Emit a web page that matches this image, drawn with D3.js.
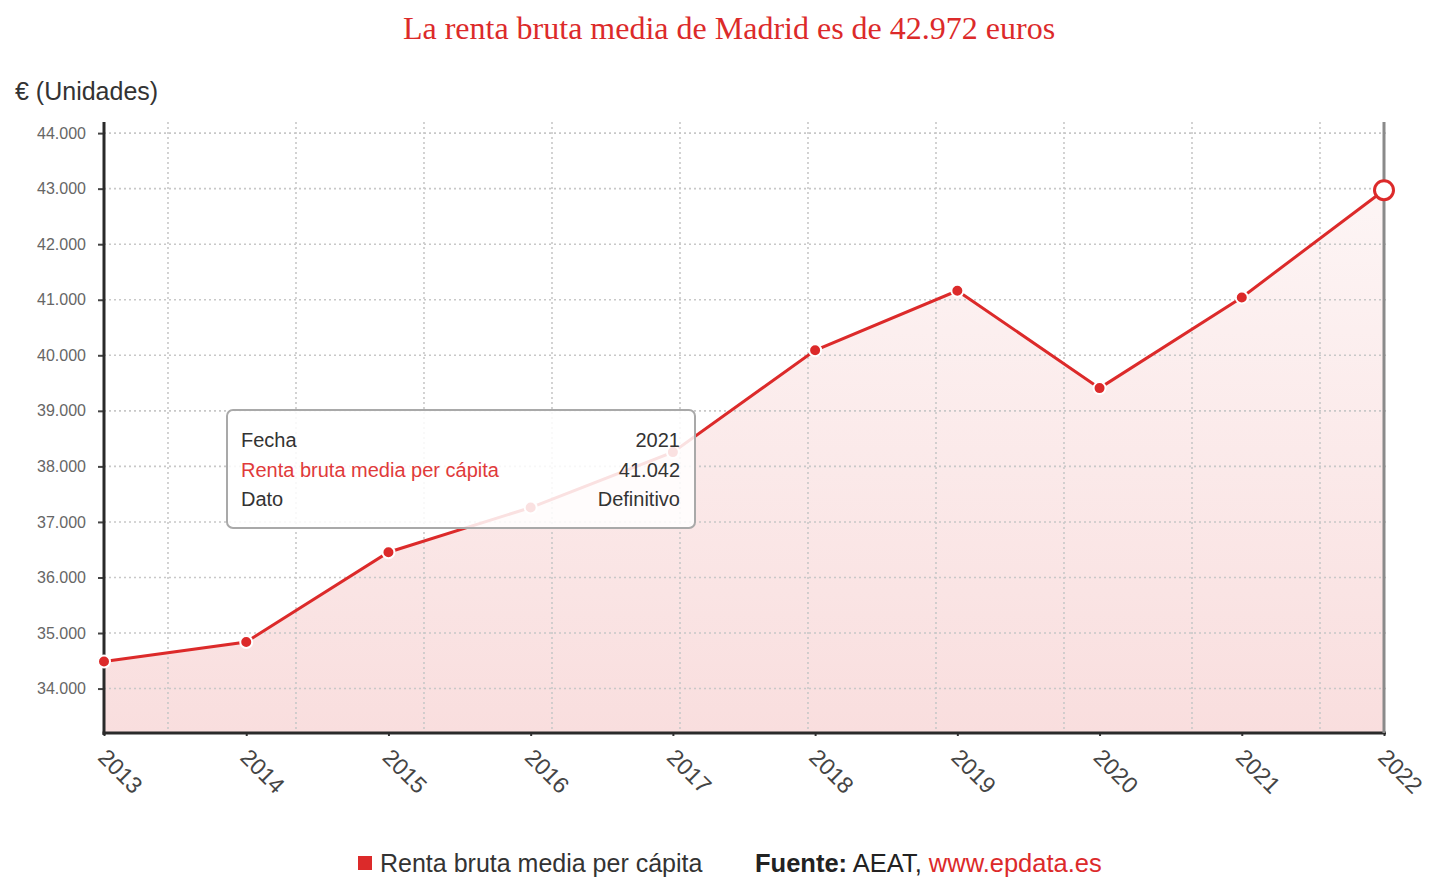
<!DOCTYPE html>
<html>
<head>
<meta charset="utf-8">
<script src="https://cdn.jsdelivr.net/npm/d3@7"></script>
<style>
  html, body { margin: 0; padding: 0; background: #fff; }
  svg { display: block; font-family: "Liberation Sans", Arial, sans-serif; }
</style>
</head>
<body>
<svg id="chart" width="1433" height="877"></svg>
<script>
const years = [2013, 2014, 2015, 2016, 2017, 2018, 2019, 2020, 2021, 2022];
const renta = [34486, 34839, 36455, 37259, 38257, 40090, 41162, 39409, 41042, 42972];
const yTicks = [34000, 35000, 36000, 37000, 38000, 39000, 40000, 41000, 42000, 43000, 44000];
const title = "La renta bruta media de Madrid es de 42.972 euros";
const yLabel = "€ (Unidades)";
const seriesName = "Renta bruta media per cápita";
const tooltipRows = [
  ["Fecha", "2021"],
  ["Renta bruta media per cápita", "41.042"],
  ["Dato", "Definitivo"]
];

const RED = "#dc2a2a";
const svg = d3.select("#chart");
const x = d3.scaleLinear().domain([2013, 2022]).range([104, 1384]);
const y = d3.scaleLinear().domain([33200, 44200]).range([733, 122]);
const gridX = d3.scaleLinear().domain([0, 10]).range([104, 1384]);
const fmt = d3.formatLocale({decimal: ",", thousands: ".", grouping: [3], currency: ["", "€"]}).format(",d");

// Title
svg.append("text").attr("x", 729).attr("y", 39).attr("text-anchor", "middle")
  .attr("font-family", "'Liberation Serif', 'Times New Roman', serif")
  .attr("font-size", 32).attr("fill", RED).text(title);

// Y label
svg.append("text").attr("x", 15).attr("y", 100).attr("font-size", 25).attr("fill", "#333").text(yLabel);

// gradient
const defs = svg.append("defs");
const grad = defs.append("linearGradient").attr("id", "areaGrad")
  .attr("gradientUnits", "userSpaceOnUse").attr("x1", 0).attr("x2", 0)
  .attr("y1", y(43000)).attr("y2", y(33200));
grad.append("stop").attr("offset", 0).attr("stop-color", "#fdf5f5");
grad.append("stop").attr("offset", 1).attr("stop-color", "#f9dede");

// Area
const pts = years.map((yr, i) => ({yr, v: renta[i]}));
svg.append("path").datum(pts)
  .attr("d", d3.area().x(d => x(d.yr)).y0(y(33200)).y1(d => y(d.v)))
  .attr("fill", "url(#areaGrad)");

// Gridlines
const grid = svg.append("g").attr("stroke", "#c8c8c8").attr("stroke-width", 1.6).attr("stroke-dasharray", "2,3");
grid.selectAll("line.h").data(yTicks).join("line")
  .attr("x1", x(2013)).attr("x2", 1388)
  .attr("y1", d => y(d)).attr("y2", d => y(d));
grid.selectAll("line.v").data(d3.range(10).map(i => i + 0.5)).join("line")
  .attr("x1", d => gridX(d)).attr("x2", d => gridX(d))
  .attr("y1", y(44200)).attr("y2", y(33200));

// Y axis
const yAxis = svg.append("g").attr("transform", `translate(${x(2013)},0)`)
  .call(d3.axisLeft(y).tickValues(yTicks).tickFormat(fmt).tickSize(6).tickPadding(12));
yAxis.select(".domain").remove();
yAxis.selectAll(".tick line").attr("stroke", "#444").attr("stroke-width", 2);
yAxis.selectAll(".tick text").attr("font-size", 16).attr("fill", "#666")
  .attr("font-family", "'Liberation Sans', Arial, sans-serif");
svg.append("line").attr("x1", x(2013)).attr("x2", x(2013)).attr("y1", y(44200)).attr("y2", y(33200) + 2)
  .attr("stroke", "#2a2a2a").attr("stroke-width", 3);

// X axis
const xAxis = svg.append("g").attr("transform", `translate(0,${y(33200)})`)
  .call(d3.axisBottom(x).tickValues(years).tickFormat(d3.format("d")).tickSize(3).tickPadding(8));
xAxis.select(".domain").remove();
xAxis.selectAll(".tick line").attr("stroke", "#333").attr("stroke-width", 2);
xAxis.selectAll(".tick text").attr("font-size", 23).attr("fill", "#444")
  .attr("font-family", "'Liberation Sans', Arial, sans-serif")
  .attr("text-anchor", "start").attr("dy", null)
  .attr("transform", "translate(0,18) rotate(45)");
svg.append("line").attr("x1", x(2013) - 1.5).attr("x2", x(2022) + 2).attr("y1", y(33200)).attr("y2", y(33200))
  .attr("stroke", "#2a2a2a").attr("stroke-width", 3);

// Crosshair at 2022
svg.append("line").attr("x1", x(2022)).attr("x2", x(2022)).attr("y1", y(44200)).attr("y2", y(33200))
  .attr("stroke", "#8a8a8a").attr("stroke-width", 3);

// Line
svg.append("path").datum(pts)
  .attr("d", d3.line().x(d => x(d.yr)).y(d => y(d.v)))
  .attr("fill", "none").attr("stroke", RED).attr("stroke-width", 3);

// Points
svg.selectAll("circle.pt").data(pts.slice(0, -1)).join("circle")
  .attr("cx", d => x(d.yr)).attr("cy", d => y(d.v)).attr("r", 6)
  .attr("fill", RED).attr("stroke", "#fff").attr("stroke-width", 2);
const last = pts[pts.length - 1];
svg.append("circle").attr("cx", x(last.yr)).attr("cy", y(last.v)).attr("r", 9.5)
  .attr("fill", "#fff").attr("stroke", RED).attr("stroke-width", 3);

// Tooltip
const tip = svg.append("g").attr("transform", "translate(227,410)");
tip.append("rect").attr("width", 468).attr("height", 118).attr("rx", 6)
  .attr("fill", "#fff").attr("fill-opacity", 0.86).attr("stroke", "#a9a9a9").attr("stroke-width", 2);
tooltipRows.forEach((r, i) => {
  tip.append("text").attr("x", 14).attr("y", 37 + i * 29.5).attr("font-size", 20)
    .attr("fill", i === 1 ? "#e03a3a" : "#333").text(r[0]);
  tip.append("text").attr("x", 453).attr("y", 37 + i * 29.5).attr("font-size", 20)
    .attr("text-anchor", "end").attr("fill", "#333").text(r[1]);
});

// Legend
svg.append("rect").attr("x", 358).attr("y", 856).attr("width", 14).attr("height", 14).attr("fill", RED);
svg.append("text").attr("x", 380).attr("y", 872).attr("font-size", 25).attr("fill", "#333").text(seriesName);
const src = svg.append("text").attr("x", 755).attr("y", 872).attr("font-size", 25.5).attr("fill", "#222");
src.append("tspan").attr("font-weight", "bold").text("Fuente:");
src.append("tspan").text(" AEAT, ");
src.append("tspan").attr("fill", RED).text("www.epdata.es");
</script>
</body>
</html>
